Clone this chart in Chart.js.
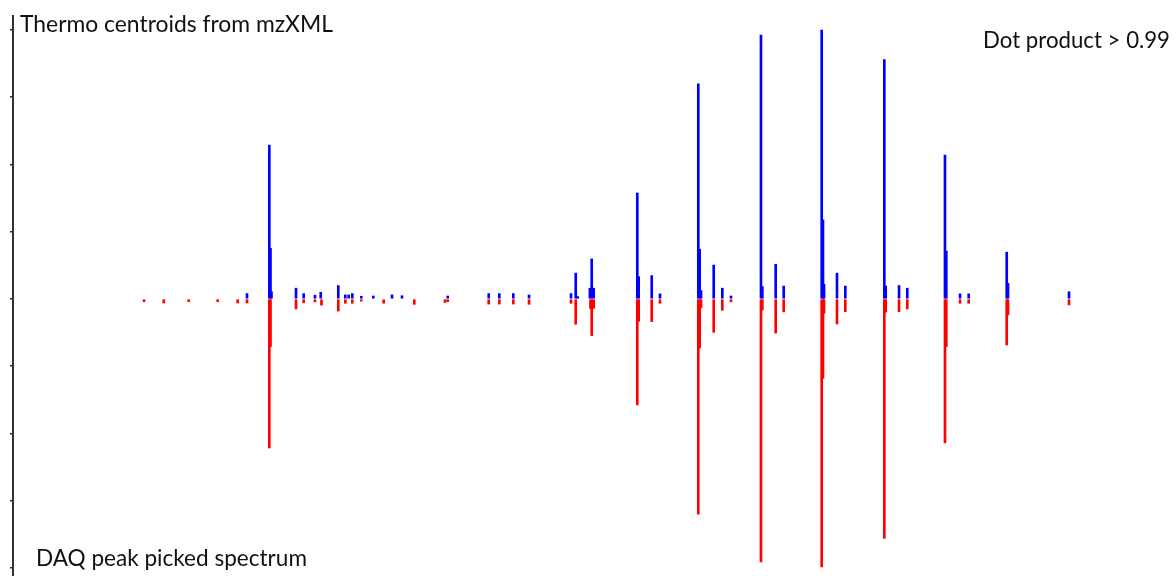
<!DOCTYPE html>
<html>
<head>
<meta charset="utf-8">
<script src="https://cdn.jsdelivr.net/npm/chart.js@4/dist/chart.umd.min.js"></script>
<style>
  html, body { margin: 0; padding: 0; background: #ffffff; }
  #wrap { position: relative; width: 1176px; height: 576px; }
</style>
</head>
<body>
<div id="wrap"><canvas id="c"></canvas></div>
<script>
// Top (blue): Thermo centroids from mzXML — m/z and relative intensity (%)
const mzBlue = [402.4, 440.8, 442.8, 444.5, 486.7, 499.9, 519.3, 529.2, 559.4, 571.5, 577.3, 583.5, 599.0, 619.6,
  651.8, 669.0, 747.6, 818.1, 836.3, 860.4, 887.4, 959.6, 967.7, 971.1, 992.1, 995.2, 998.6, 1073.6, 1076.0,
  1098.4, 1112.6, 1178.5, 1180.9, 1183.2, 1205.0, 1219.8, 1234.7, 1286.3, 1288.6, 1311.6, 1325.4, 1390.7,
  1392.9, 1394.7, 1417.0, 1431.3, 1498.4, 1500.8, 1523.7, 1537.9, 1602.7, 1605.0, 1628.6, 1643.5, 1708.9,
  1711.1, 1816.0];
const intBlue = [2, 57.2, 18.8, 2.7, 4, 2, 1.4, 2.5, 5, 1.5, 1.5, 2, 1, 1.1,
  1.5, 1.2, 1.1, 2, 2, 2, 1.5, 2, 9.6, 0.9, 4, 14.9, 4, 39.4, 8.3,
  8.7, 1.9, 80, 18.5, 3.1, 12.6, 4, 1.1, 98.1, 4.6, 12.9, 4.8, 100,
  29.4, 5.5, 9.6, 4.8, 89, 4.8, 5, 4, 53.5, 17.8, 1.9, 1.9, 17.4,
  5.8, 2.7];

// Bottom (red): DAQ peak picked spectrum — m/z and negative relative intensity (%)
const mzRed = [225.3, 259.2, 302.2, 352.0, 386.4, 402.4, 440.8, 442.8, 486.7, 499.9, 519.3, 530.5, 559.4, 571.5,
  583.5, 599.0, 637.5, 690.1, 742.9, 747.6, 818.1, 836.3, 860.4, 887.4, 959.6, 967.7, 993.1, 995.2, 998.6,
  1073.6, 1076.0, 1098.4, 1112.6, 1178.5, 1180.9, 1183.2, 1205.0, 1219.8, 1234.7, 1286.3, 1288.6, 1311.6,
  1325.4, 1390.7, 1392.9, 1394.7, 1417.0, 1431.3, 1498.4, 1500.8, 1523.7, 1537.9, 1602.7, 1605.0, 1628.6,
  1643.5, 1708.9, 1711.1, 1816.0];
const intRed = [-1, -1.5, -1, -1, -1.5, -1.5, -55.4, -17.7, -3.7, -1.4, -1.1, -2.3, -4.5, -1.6,
  -1.6, -0.8, -1.6, -2, -1.3, -1, -1.9, -1.9, -1.9, -2, -1.6, -9.4, -3.5, -13.6, -3.5,
  -39.4, -8.3, -8.4, -1.6, -80, -18.2, -3.3, -12.4, -4.2, -1.1, -97.8, -4.1, -12.7,
  -4.8, -99.6, -29.5, -5.3, -9.3, -4.7, -89, -4.9, -4.7, -3.7, -53.5, -17.7, -1.6,
  -1.6, -17.1, -5.9, -2.2];

const yTicks = [-100, -75, -50, -25, 0, 25, 50, 75, 100];

const labels = [
  { text: 'Thermo centroids from mzXML', x: 20, y: 32, w: 313, align: 'left' },
  { text: 'Dot product > 0.99', x: 1170, y: 48, w: 187, align: 'right' },
  { text: 'DAQ peak picked spectrum', x: 36, y: 566, w: 271, align: 'left' }
];

const textPlugin = {
  id: 'texts',
  afterDraw(chart) {
    const ctx = chart.ctx;
    ctx.save();
    ctx.fillStyle = '#111111';
    ctx.textBaseline = 'alphabetic';
    labels.forEach(l => {
      ctx.font = '21px Lato';
      const m = ctx.measureText(l.text).width;
      const size = 21 * l.w / m;
      ctx.font = size.toFixed(2) + 'px Lato';
      ctx.textAlign = l.align;
      ctx.fillText(l.text, l.x, l.y);
    });
    ctx.restore();
  }
};

const toPts = (xs, ys) => xs.map((x, i) => ({ x: x, y: ys[i] }));

new Chart(document.getElementById('c'), {
  type: 'bar',
  data: {
    datasets: [
      { label: 'Thermo centroids from mzXML', data: toPts(mzBlue, intBlue), backgroundColor: '#0000ff', barThickness: 2, borderWidth: 0 },
      { label: 'DAQ peak picked spectrum', data: toPts(mzRed, intRed), backgroundColor: '#ff0000', barThickness: 2, borderWidth: 0 }
    ]
  },
  options: {
    responsive: true,
    maintainAspectRatio: false,
    animation: false,
    grouped: false,
    layout: { padding: { top: 16, left: 0, right: 0, bottom: 0 } },
    plugins: { legend: { display: false }, tooltip: { enabled: false } },
    scales: {
      x: { type: 'linear', display: false, min: 0, max: 2000, offset: false },
      y: {
        min: -103, max: 105.2,
        afterBuildTicks: s => { s.ticks = yTicks.map(v => ({ value: v })); },
        afterFit: s => { s.width = 13; },
        ticks: { display: false },
        grid: { drawOnChartArea: false, drawTicks: true, tickLength: 3, color: '#333333', lineWidth: 1.5 },
        border: { display: true, color: '#333333', width: 2 }
      }
    }
  },
  plugins: [textPlugin]
});
</script>
</body>
</html>
